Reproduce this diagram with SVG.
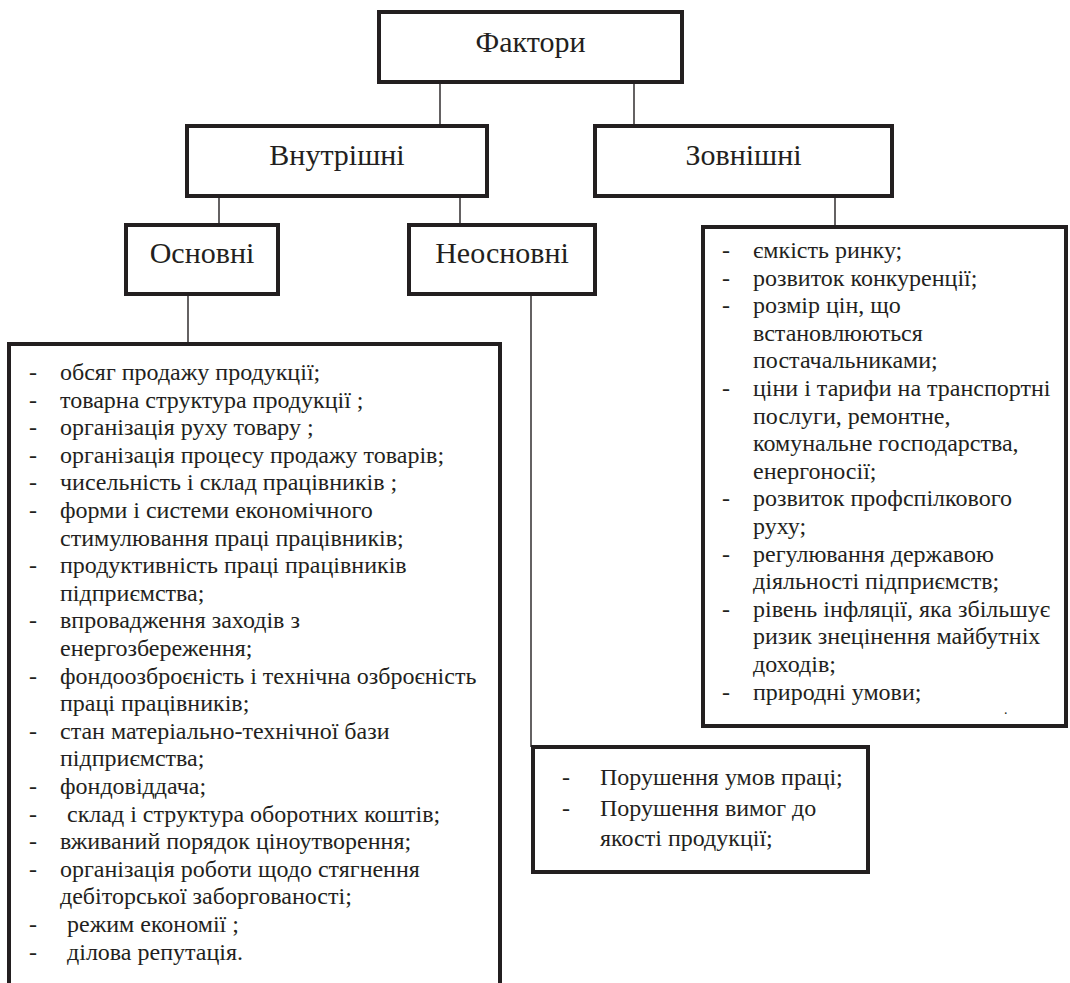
<svg xmlns="http://www.w3.org/2000/svg" width="1070" height="983" viewBox="0 0 1070 983">
<style>
.box{fill:#fff;stroke:#231f20;stroke-width:4}
.con{stroke:#231f20;stroke-width:1.4;fill:none}
text{font-family:"Liberation Serif","DejaVu Serif",serif;fill:#231f20;font-weight:normal}
.lbl{font-size:30px;text-anchor:middle}
.li{font-size:24px}
</style>
<rect width="1070" height="983" fill="#fff"/>
<g id="connectors">
<line class="con" x1="440" y1="82" x2="440" y2="126"/>
<line class="con" x1="634" y1="82" x2="634" y2="126"/>
<line class="con" x1="219" y1="196" x2="219" y2="225"/>
<line class="con" x1="460" y1="196" x2="460" y2="225"/>
<line class="con" x1="835" y1="196" x2="835" y2="227"/>
<line class="con" x1="188" y1="294" x2="188" y2="344"/>
<line class="con" x1="531" y1="294" x2="531" y2="747"/>
</g>
<g id="factors">
<rect class="box" x="379" y="12" width="303" height="70"/>
<text class="lbl" x="530.5" y="52">Фактори</text>
</g>
<g id="internal">
<rect class="box" x="187" y="126" width="300" height="70"/>
<text class="lbl" x="337" y="165">Внутрішні</text>
</g>
<g id="external">
<rect class="box" x="595" y="126" width="297" height="70"/>
<text class="lbl" x="743.5" y="165">Зовнішні</text>
</g>
<g id="basic">
<rect class="box" x="126" y="225" width="152" height="69"/>
<text class="lbl" x="202" y="263">Основні</text>
</g>
<g id="nonbasic">
<rect class="box" x="409" y="225" width="186" height="69"/>
<text class="lbl" x="502" y="263">Неосновні</text>
</g>
<g id="basic-list">
<rect class="box" x="9" y="344" width="491" height="660"/>
<text class="li" x="29" y="380">-</text><text class="li" x="60" y="380">обсяг продажу продукції;</text>
<text class="li" x="29" y="407.6">-</text><text class="li" x="60" y="407.6">товарна структура продукції ;</text>
<text class="li" x="29" y="435.2">-</text><text class="li" x="60" y="435.2">організація руху товару ;</text>
<text class="li" x="29" y="462.8">-</text><text class="li" x="60" y="462.8">організація процесу продажу товарів;</text>
<text class="li" x="29" y="490.4">-</text><text class="li" x="60" y="490.4">чисельність і склад працівників ;</text>
<text class="li" x="29" y="518">-</text><text class="li" x="60" y="518">форми і системи економічного</text>
<text class="li" x="60" y="545.6">стимулювання праці працівників;</text>
<text class="li" x="29" y="573.2">-</text><text class="li" x="60" y="573.2">продуктивність праці працівників</text>
<text class="li" x="60" y="600.8">підприємства;</text>
<text class="li" x="29" y="628.4">-</text><text class="li" x="60" y="628.4">впровадження заходів з</text>
<text class="li" x="60" y="656">енергозбереження;</text>
<text class="li" x="29" y="683.6">-</text><text class="li" x="60" y="683.6">фондоозброєність і технічна озброєність</text>
<text class="li" x="60" y="711.2">праці працівників;</text>
<text class="li" x="29" y="738.8">-</text><text class="li" x="60" y="738.8">стан матеріально-технічної бази</text>
<text class="li" x="60" y="766.4">підприємства;</text>
<text class="li" x="29" y="794">-</text><text class="li" x="60" y="794">фондовіддача;</text>
<text class="li" x="29" y="821.6">-</text><text class="li" x="67" y="821.6">склад і структура оборотних коштів;</text>
<text class="li" x="29" y="849.2">-</text><text class="li" x="60" y="849.2">вживаний порядок ціноутворення;</text>
<text class="li" x="29" y="876.8">-</text><text class="li" x="60" y="876.8">організація роботи щодо стягнення</text>
<text class="li" x="60" y="904.4">дебіторської заборгованості;</text>
<text class="li" x="29" y="932">-</text><text class="li" x="67" y="932">режим економії ;</text>
<text class="li" x="29" y="959.6">-</text><text class="li" x="67" y="959.6">ділова репутація.</text>
</g>
<g id="external-list">
<rect class="box" x="703" y="227" width="363" height="499"/>
<text class="li" x="722" y="258">-</text><text class="li" x="753" y="258">ємкість ринку;</text>
<text class="li" x="722" y="285.6">-</text><text class="li" x="753" y="285.6">розвиток конкуренції;</text>
<text class="li" x="722" y="313.2">-</text><text class="li" x="753" y="313.2">розмір цін, що</text>
<text class="li" x="753" y="340.8">встановлюються</text>
<text class="li" x="753" y="368.4">постачальниками;</text>
<text class="li" x="722" y="396">-</text><text class="li" x="753" y="396">ціни і тарифи на транспортні</text>
<text class="li" x="753" y="423.6">послуги, ремонтне,</text>
<text class="li" x="753" y="451.2">комунальне господарства,</text>
<text class="li" x="753" y="478.8">енергоносії;</text>
<text class="li" x="722" y="506.4">-</text><text class="li" x="753" y="506.4">розвиток профспілкового</text>
<text class="li" x="753" y="534">руху;</text>
<text class="li" x="722" y="561.6">-</text><text class="li" x="753" y="561.6">регулювання державою</text>
<text class="li" x="753" y="589.2">діяльності підприємств;</text>
<text class="li" x="722" y="616.8">-</text><text class="li" x="753" y="616.8">рівень інфляції, яка збільшує</text>
<text class="li" x="753" y="644.4">ризик знецінення майбутніх</text>
<text class="li" x="753" y="672">доходів;</text>
<text class="li" x="722" y="699.6">-</text><text class="li" x="753" y="699.6">природні умови;</text>
<text x="1004" y="714" font-size="14">.</text>
</g>
<g id="nonbasic-list">
<rect class="box" x="533" y="747" width="335" height="125"/>
<text class="li" x="562" y="785">-</text><text class="li" x="600" y="785">Порушення умов праці;</text>
<text class="li" x="562" y="815.5">-</text><text class="li" x="600" y="815.5">Порушення вимог до</text>
<text class="li" x="600" y="846">якості продукції;</text>
</g>
</svg>
